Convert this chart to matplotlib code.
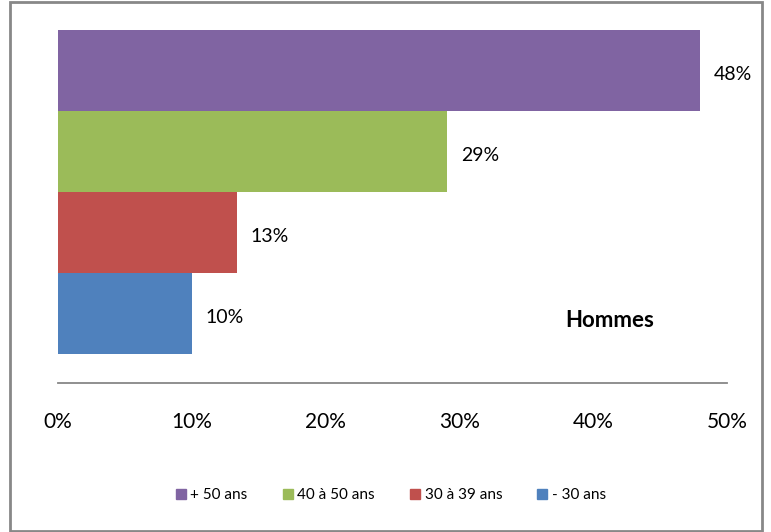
import matplotlib
matplotlib.use("Agg")
import matplotlib.pyplot as plt
from matplotlib.patches import Rectangle, Patch

plt.rcParams['font.family'] = ['Lato', 'DejaVu Sans']

# bottom to top
categories = ["- 30 ans", "30 à 39 ans", "40 à 50 ans", "+ 50 ans"]
values = [10.0, 13.4, 29.1, 48.0]
colors = ["#4F81BD", "#C0504D", "#9BBB59", "#8064A2"]
xticks = [0, 10, 20, 30, 40, 50]
tick_labels = ["0%", "10%", "20%", "30%", "40%", "50%"]

W, H = 771, 532
fig = plt.figure(figsize=(W / 100, H / 100), dpi=100)
ax = fig.add_axes([58 / W, 1 - 383 / H, (727 - 58) / W, (383 - 30) / H])

pos = list(range(len(values)))
ax.barh(pos, values, height=1.0, color=colors, align='center')
for p, v in zip(pos, values):
    ax.text(v + 1.0, p - 0.05, "%d%%" % round(v), va='center', ha='left',
            fontsize=14, color='black')

ax.set_xlim(0, 50)
ax.set_ylim(-0.5 - 29 / 81, 3.5)
ax.set_xticks(xticks)
ax.set_xticklabels(tick_labels, fontsize=15)
ax.tick_params(axis='x', length=0, pad=21)
ax.set_yticks([])
for s in ['top', 'right', 'left']:
    ax.spines[s].set_visible(False)
ax.spines['bottom'].set_color('#878787')
ax.spines['bottom'].set_linewidth(1.3)

ax.text(41.2, -0.09, "Hommes", fontsize=16, fontweight='bold', ha='center', va='center')

handles = [Patch(color=c, label=l) for c, l in zip(colors[::-1], categories[::-1])]
fig.legend(handles=handles, loc='center', bbox_to_anchor=(391 / W, 1 - 495 / H), ncol=4,
           frameon=False, fontsize=11, handlelength=0.65, handleheight=0.65,
           handletextpad=0.3, columnspacing=2.3)

fig.patches.append(Rectangle((10 / W, 1 / H), (762 - 10) / W, (531 - 2) / H,
                             transform=fig.transFigure, fill=False,
                             edgecolor='#888888', linewidth=2))

fig.savefig("out.png", dpi=100)
